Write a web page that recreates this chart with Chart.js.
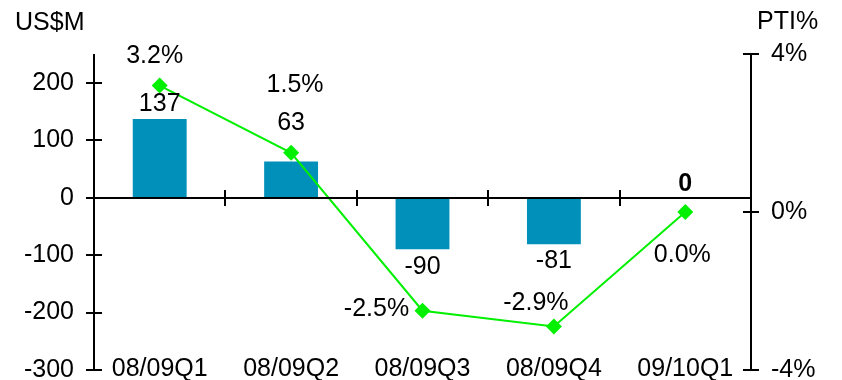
<!DOCTYPE html>
<html>
<head>
<meta charset="utf-8">
<script src="https://cdn.jsdelivr.net/npm/chart.js@4.4.1/dist/chart.umd.min.js"></script>
<style>
  html, body { margin: 0; padding: 0; background: #fff; }
  #wrap { width: 842px; height: 380px; }
</style>
</head>
<body>
<div id="wrap"><canvas id="ptiChart" width="842" height="380"></canvas></div>
<script>
const quarters = ["08/09Q1", "08/09Q2", "08/09Q3", "08/09Q4", "09/10Q1"];
const profitUSM = [137, 63, -90, -81, 0];
const ptiPct = [3.2, 1.5, -2.5, -2.9, 0.0];
const leftTicks = [200, 100, 0, -100, -200, -300];
const rightTicks = [4, 0, -4];

// label nudges in px so the numbers clear the green line
const barLabelShift = [[0, -15], [0, -38], [0, 18], [0, 17], [0, -14]];
const lineLabelShift = [[-5, -29], [4, -68], [-46, -2], [-18, -23], [-3, 43]];

const FONT = '"Liberation Sans", Arial, sans-serif';
const SIZE = '25px ';

const slideAxes = {
  id: 'slideAxes',
  afterDatasetsDraw(chart) {
    const ctx = chart.ctx;
    const { left, right, top, bottom } = chart.chartArea;
    const x = chart.scales.x, y = chart.scales.y, y2 = chart.scales.y2;
    const axL = Math.round(left), axR = Math.round(right);
    const zeroY = Math.round(y.getPixelForValue(0));

    ctx.save();
    ctx.strokeStyle = '#000';
    ctx.lineWidth = 2;
    ctx.beginPath();
    // left and right value axes
    ctx.moveTo(axL, top); ctx.lineTo(axL, bottom);
    ctx.moveTo(axR, top); ctx.lineTo(axR, bottom);
    // category axis through zero
    ctx.moveTo(axL, zeroY); ctx.lineTo(axR, zeroY);
    leftTicks.forEach(v => {
      const py = Math.round(y.getPixelForValue(v));
      ctx.moveTo(axL - 8, py); ctx.lineTo(axL + 8, py);
    });
    rightTicks.forEach(v => {
      const py = Math.round(y2.getPixelForValue(v));
      ctx.moveTo(axR - 8, py); ctx.lineTo(axR + 8, py);
    });
    for (let i = 0; i < quarters.length - 1; i++) {
      const px = Math.round((x.getPixelForValue(i) + x.getPixelForValue(i + 1)) / 2);
      ctx.moveTo(px, zeroY - 8); ctx.lineTo(px, zeroY + 8);
    }
    ctx.stroke();

    ctx.fillStyle = '#000';
    ctx.font = SIZE + FONT;
    ctx.textBaseline = 'middle';

    ctx.textAlign = 'right';
    leftTicks.forEach(v => ctx.fillText(String(v), axL - 20, y.getPixelForValue(v)));
    ctx.textAlign = 'left';
    rightTicks.forEach(v => ctx.fillText(v + '%', axR + 20, y2.getPixelForValue(v)));

    ctx.textAlign = 'center';
    quarters.forEach((q, i) => ctx.fillText(q, x.getPixelForValue(i), bottom - 1));

    // axis titles
    ctx.textAlign = 'left';
    ctx.fillText('US$M', 15, 23);
    ctx.fillText('PTI%', 757, 22);

    // bar value labels
    const barMeta = chart.getDatasetMeta(1);
    barMeta.data.forEach((bar, i) => {
      const v = profitUSM[i];
      ctx.font = (v === 0 ? 'bold ' : '') + SIZE + FONT;
      ctx.textAlign = 'center';
      ctx.fillText(String(v), bar.x + barLabelShift[i][0], bar.y + barLabelShift[i][1]);
    });

    // PTI% labels
    ctx.font = SIZE + FONT;
    const lineMeta = chart.getDatasetMeta(0);
    lineMeta.data.forEach((pt, i) => {
      ctx.fillText(ptiPct[i].toFixed(1) + '%', pt.x + lineLabelShift[i][0], pt.y + lineLabelShift[i][1]);
    });
    ctx.restore();
  }
};

new Chart(document.getElementById('ptiChart'), {
  type: 'bar',
  data: {
    labels: quarters,
    datasets: [
      {
        type: 'line',
        label: 'PTI%',
        data: ptiPct,
        yAxisID: 'y2',
        order: 0,
        borderColor: '#00f000',
        borderWidth: 2,
        backgroundColor: '#00f000',
        pointStyle: 'rectRot',
        pointRadius: 8,
        pointBorderWidth: 0,
        tension: 0
      },
      {
        label: 'US$M',
        data: profitUSM,
        yAxisID: 'y',
        order: 1,
        backgroundColor: '#0090ba',
        categoryPercentage: 1,
        barPercentage: 0.41
      }
    ]
  },
  options: {
    responsive: false,
    animation: false,
    layout: { padding: { left: 94, right: 91, top: 54, bottom: 10 } },
    plugins: { legend: { display: false }, tooltip: { enabled: false } },
    scales: {
      x: { display: false, offset: true },
      y: { display: false, min: -300, max: 250 },
      y2: { display: false, min: -4, max: 4, position: 'right' }
    }
  },
  plugins: [slideAxes]
});
</script>
</body>
</html>
